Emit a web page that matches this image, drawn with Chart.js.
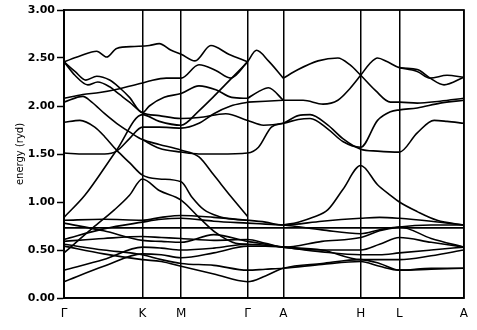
<!DOCTYPE html>
<html>
<head>
<meta charset="utf-8">
<script src="https://cdn.jsdelivr.net/npm/chart.js@4/dist/chart.umd.min.js"></script>
<style>
  html, body { margin: 0; padding: 0; background: #fff; }
  #wrap { width: 477px; height: 330px; }
</style>
</head>
<body>
<div id="wrap"><canvas id="c" width="477" height="330"></canvas></div>
<script>
// ---- symmetry points along the k-path ----
const kLabels = ['Γ', 'K', 'M', 'Γ', 'A', 'H', 'L', 'A'];
const kTicks  = [0, 79, 118, 185, 221, 299, 338, 403];
const yTicks  = [0, 0.5, 1, 1.5, 2, 2.5, 3];

// ---- d-band manifold, energies (ryd) on a common k grid ----
const kGrid = [0, 40, 79, 98, 118, 151, 185, 203, 221, 260, 299, 318, 338, 370, 403];
const d0 = [0.73, 0.73, 0.73, 0.73, 0.73, 0.73, 0.73, 0.73, 0.73, 0.73, 0.73, 0.73, 0.73, 0.73, 0.73];
const d1 = [0.81, 0.82, 0.81, 0.84, 0.86, 0.84, 0.81, 0.79, 0.76, 0.80, 0.83, 0.84, 0.83, 0.80, 0.76];
const d2 = [0.78, 0.70, 0.60, 0.59, 0.58, 0.66, 0.59, 0.56, 0.53, 0.50, 0.50, 0.56, 0.63, 0.58, 0.53];
const d3 = [0.61, 0.72, 0.79, 0.82, 0.83, 0.80, 0.78, 0.77, 0.76, 0.71, 0.67, 0.71, 0.74, 0.62, 0.53];
const d4 = [0.59, 0.62, 0.64, 0.63, 0.62, 0.60, 0.61, 0.57, 0.53, 0.59, 0.63, 0.70, 0.74, 0.76, 0.76];
const d5 = [0.56, 0.50, 0.45, 0.40, 0.36, 0.34, 0.29, 0.30, 0.31, 0.35, 0.38, 0.33, 0.29, 0.30, 0.31];
const d6 = [0.54, 0.46, 0.40, 0.38, 0.33, 0.25, 0.17, 0.23, 0.31, 0.36, 0.40, 0.36, 0.29, 0.31, 0.31];
const d7 = [0.29, 0.40, 0.53, 0.52, 0.50, 0.52, 0.56, 0.55, 0.53, 0.48, 0.45, 0.45, 0.47, 0.50, 0.53];
const d8 = [0.17, 0.33, 0.46, 0.45, 0.42, 0.47, 0.54, 0.54, 0.53, 0.50, 0.40, 0.40, 0.40, 0.44, 0.50];

// ---- upper (s-p like) bands, [k, energy] pairs ----
const u1 = [[0,2.46],[16,2.52],[33,2.57],[43,2.51],[53,2.60],[71,2.62],[86,2.63],[96,2.65],[108,2.58],[118,2.54],[132,2.47],[148,2.63],[166,2.54],[185,2.46]];
const u2 = [[185,2.46],[194,2.58],[206,2.47],[221,2.29]];
const u3 = [[0,2.46],[11,2.36],[22,2.27],[33,2.31],[46,2.27],[56,2.19],[66,2.09],[79,1.93],[86,2.00],[101,2.09],[118,2.13],[136,2.21],[153,2.17],[169,2.09],[185,2.08]];
const u4 = [[0,2.46],[11,2.32],[24,2.22],[34,2.25],[46,2.20],[56,2.12],[66,2.04],[79,1.93],[96,1.90],[118,1.87],[136,1.88],[163,1.92],[185,1.85],[201,1.80],[221,1.82],[236,1.86],[248,1.87],[266,1.76],[281,1.63],[299,1.57],[316,1.85],[329,1.94],[338,1.96],[356,1.98],[379,2.03],[403,2.06]];
const u5 = [[0,2.08],[19,2.12],[36,2.14],[56,2.18],[79,2.24],[86,2.26],[103,2.29],[118,2.29],[136,2.43],[153,2.37],[168,2.29],[185,2.46]];
const u6 = [[0,2.04],[19,2.10],[28,2.04],[41,1.92],[53,1.82],[66,1.73],[79,1.65],[96,1.60],[118,1.54],[136,1.47],[151,1.28],[168,1.06],[185,0.85]];
const u7 = [[0,1.83],[16,1.85],[31,1.78],[41,1.68],[53,1.54],[66,1.41],[79,1.28],[96,1.24],[118,1.21],[129,1.05],[141,0.92],[156,0.85],[171,0.82],[185,0.81]];
const u8 = [[0,1.51],[21,1.50],[41,1.50],[53,1.53],[66,1.66],[79,1.78],[96,1.78],[118,1.77],[136,1.82],[151,1.92],[168,2.00],[185,2.04]];
const u9 = [[0,0.84],[21,1.07],[53,1.54],[79,1.91],[96,1.84],[118,1.80],[136,1.95],[151,2.10],[168,2.28],[185,2.46]];
const u10 = [[0,0.47],[29,0.73],[51,0.92],[66,1.07],[79,1.24],[96,1.12],[118,1.02],[136,0.84],[153,0.68],[173,0.57],[185,0.56]];
const f1 = [[79,1.65],[96,1.56],[118,1.52],[136,1.50],[156,1.50],[185,1.51],[196,1.57],[209,1.78],[221,1.82],[236,1.90],[248,1.91],[266,1.80],[281,1.66],[299,1.55],[316,1.53],[338,1.52],[356,1.72],[373,1.85],[386,1.84],[403,1.82]];
const c4 = [[221,2.29],[236,2.38],[256,2.47],[276,2.50],[288,2.43],[299,2.32],[314,2.16],[329,2.04],[338,2.04],[356,2.03],[379,2.05],[403,2.08]];
const c5 = [[221,2.06],[241,2.06],[261,2.02],[276,2.06],[288,2.18],[299,2.32],[308,2.44],[316,2.50],[326,2.46],[338,2.40],[356,2.38],[369,2.29],[383,2.22],[403,2.30]];
const c6 = [[338,2.40],[356,2.36],[369,2.29],[386,2.32],[403,2.30]];
const c7 = [[185,2.08],[196,2.15],[206,2.19],[221,2.06]];
const c8 = [[185,2.04],[203,2.05],[221,2.06]];
const lam = [[221,0.76],[236,0.79],[251,0.84],[266,0.92],[281,1.13],[299,1.38],[316,1.18],[329,1.07],[338,1.00],[356,0.90],[376,0.81],[403,0.76]];

const gridBands = [d0, d1, d2, d3, d4, d5, d6, d7, d8];
const pairBands = [u1, u2, u3, u4, u5, u6, u7, u8, u9, u10, f1, c4, c5, c6, c7, c8, lam];

const lineStyle = {
  showLine: true, borderColor: '#000', borderWidth: 1.6, pointRadius: 0,
  fill: false, cubicInterpolationMode: 'monotone'
};
const datasets = [];
gridBands.forEach(b => datasets.push(Object.assign({ data: kGrid.map((k, i) => ({ x: k, y: b[i] })) }, lineStyle)));
pairBands.forEach(b => datasets.push(Object.assign({ data: b.map(p => ({ x: p[0], y: p[1] })) }, lineStyle)));

const frame = {
  id: 'frame',
  afterDraw(chart) {
    const a = chart.chartArea, ctx = chart.ctx;
    ctx.save();
    ctx.strokeStyle = '#000';
    ctx.lineWidth = 1.8;
    ctx.strokeRect(a.left, a.top, a.right - a.left, a.bottom - a.top);
    ctx.restore();
  }
};

new Chart(document.getElementById('c'), {
  type: 'scatter',
  data: { datasets },
  plugins: [frame],
  options: {
    responsive: false,
    animation: false,
    layout: { padding: { left: 0, right: 10, top: 10, bottom: 0 } },
    plugins: { legend: { display: false }, tooltip: { enabled: false } },
    scales: {
      x: {
        type: 'linear', min: 0, max: 403,
        afterBuildTicks: s => { s.ticks = kTicks.map(v => ({ value: v })); },
        afterFit: s => { s.height = 32; },
        ticks: {
          autoSkip: false, maxRotation: 0, padding: 9, color: '#000',
          font: { family: 'DejaVu Sans', size: 12 },
          callback: (v, i) => kLabels[i]
        },
        grid: { color: '#000', lineWidth: 1.5, drawTicks: false, drawOnChartArea: true },
        border: { display: true, color: '#000', width: 1.8 }
      },
      y: {
        type: 'linear', min: 0, max: 3,
        afterBuildTicks: s => { s.ticks = yTicks.map(v => ({ value: v })); },
        afterFit: s => { s.width = 64; },
        ticks: {
          padding: 2, color: '#000',
          font: { family: 'DejaVu Sans', size: 11, weight: 'bold' },
          callback: v => Number(v).toFixed(2)
        },
        grid: { drawOnChartArea: false, drawTicks: true, tickLength: 7, tickColor: '#000', tickWidth: 1.5 },
        border: { display: true, color: '#000', width: 1.8 },
        title: {
          display: true, text: 'energy (ryd)', color: '#000',
          font: { family: 'DejaVu Sans', size: 10 },
          padding: { top: 14, bottom: 0 }
        }
      }
    }
  }
});
</script>
</body>
</html>
